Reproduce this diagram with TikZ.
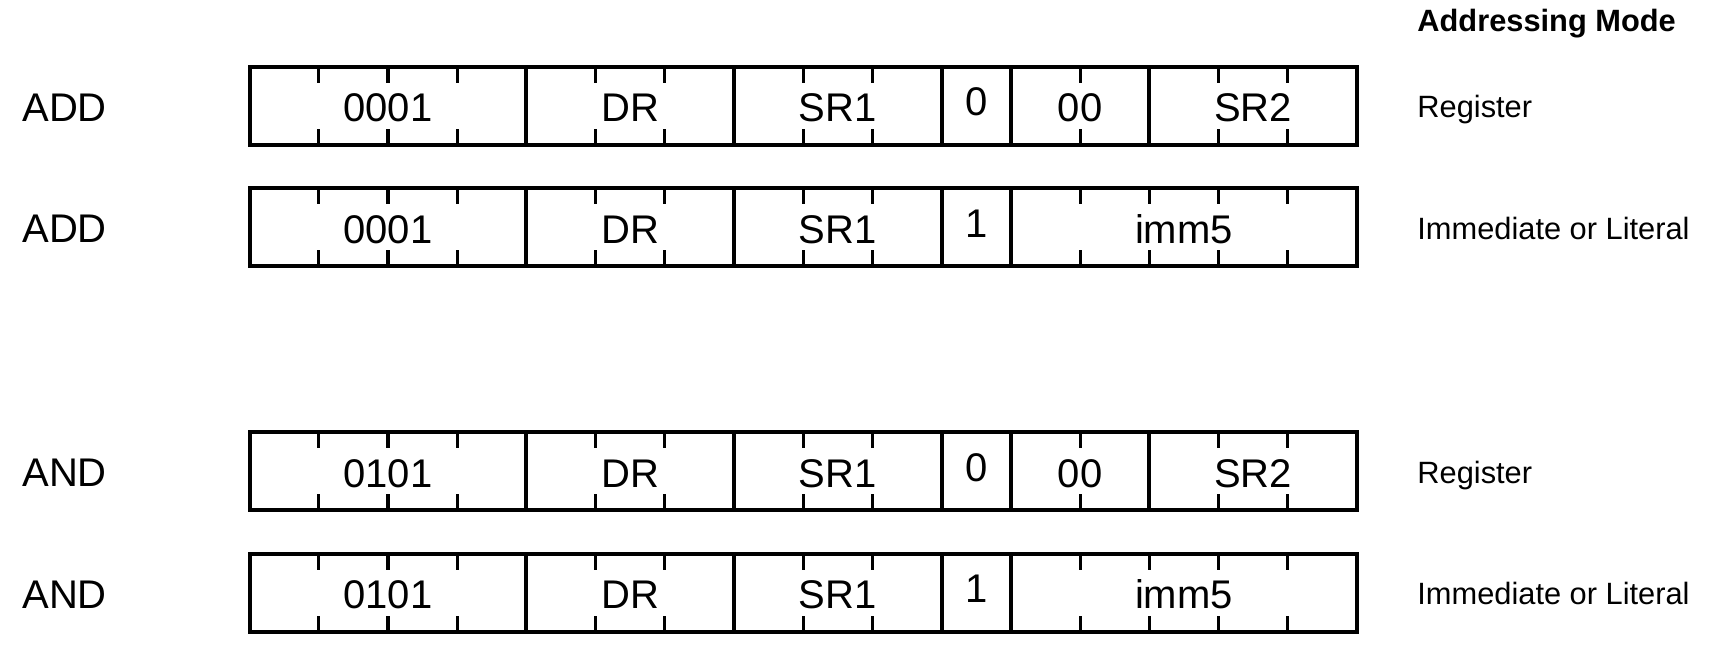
\documentclass[tikz,border=0pt]{standalone}
\usepackage{fontspec}
\setmainfont{Liberation Sans}
\begin{document}
\begin{tikzpicture}[x=0.5pt,y=-0.5pt,
  field/.style={draw,line width=2pt},
  tick/.style={line width=1.6pt},
  mnem/.style={font=\fontsize{20}{24}\selectfont,anchor=base west,inner sep=0pt},
  lbl/.style={font=\fontsize{20}{24}\selectfont,anchor=base,inner sep=0pt},
  mode/.style={font=\fontsize{15.4}{18}\selectfont,anchor=base west,inner sep=0pt}]
\useasboundingbox (0,0) rectangle (1716,658);
\node[mode,font=\fontsize{15.4}{18}\selectfont\bfseries] (head) at (1417,31.7) {Addressing Mode};
% register mode rows
\foreach \row/\mn/\op/\yt in {addr/ADD/0001/66.8, andr/AND/0101/432.3}{
  \draw[field] (249.5,\yt) rectangle ++(1107.5,77.7);
  \foreach \b in {4,7,10,11,13}
    \draw[field] ({249.5+69.22*\b},\yt) -- ++(0,77.7);
  \foreach \b in {1,2,3,5,6,8,9,12,14,15}{
    \draw[tick] ({249.5+69.22*\b},\yt) -- ++(0,16);
    \draw[tick] ({249.5+69.22*\b},{\yt+77.7}) -- ++(0,-16);}
  \node[mnem] (\row-mn) at (22,{\yt+54.4}) {\mn};
  \node[lbl] (\row-op) at ({249.5+69.22*2},{\yt+55.1}) {\op};
  \node[lbl] (\row-dr) at ({249.5+69.22*5.5},{\yt+55.1}) {DR};
  \node[lbl] (\row-sr1) at ({249.5+69.22*8.5},{\yt+55.1}) {SR1};
  \node[lbl] (\row-bit) at ({249.5+69.22*10.5},{\yt+48.9}) {0};
  \node[lbl] (\row-pad) at ({249.5+69.22*12},{\yt+55.1}) {00};
  \node[lbl] (\row-sr2) at ({249.5+69.22*14.5},{\yt+55.1}) {SR2};
  \node[mode] (\row-mode) at (1417,{\yt+50.9}) {Register};
}
% immediate mode rows
\foreach \row/\mn/\op/\yt in {addi/ADD/0001/188.2, andi/AND/0101/553.8}{
  \draw[field] (249.5,\yt) rectangle ++(1107.5,77.7);
  \foreach \b in {4,7,10,11}
    \draw[field] ({249.5+69.22*\b},\yt) -- ++(0,77.7);
  \foreach \b in {1,2,3,5,6,8,9,12,13,14,15}{
    \draw[tick] ({249.5+69.22*\b},\yt) -- ++(0,16);
    \draw[tick] ({249.5+69.22*\b},{\yt+77.7}) -- ++(0,-16);}
  \node[mnem] (\row-mn) at (22,{\yt+54.4}) {\mn};
  \node[lbl] (\row-op) at ({249.5+69.22*2},{\yt+55.1}) {\op};
  \node[lbl] (\row-dr) at ({249.5+69.22*5.5},{\yt+55.1}) {DR};
  \node[lbl] (\row-sr1) at ({249.5+69.22*8.5},{\yt+55.1}) {SR1};
  \node[lbl] (\row-bit) at ({249.5+69.22*10.5},{\yt+48.9}) {1};
  \node[lbl] (\row-imm) at ({249.5+69.22*13.5},{\yt+55.1}) {imm5};
  \node[mode] (\row-mode) at (1417,{\yt+50.9}) {Immediate or Literal};
}
\end{tikzpicture}
\end{document}
